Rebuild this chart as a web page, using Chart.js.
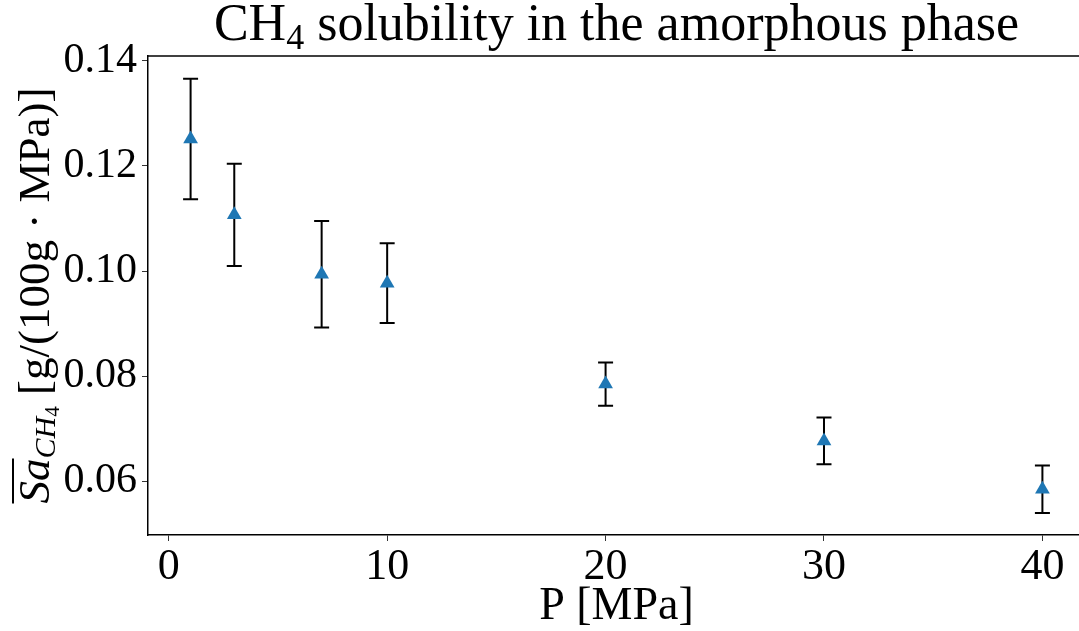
<!DOCTYPE html>
<html>
<head>
<meta charset="utf-8">
<script src="https://cdn.jsdelivr.net/npm/chart.js@4.4.1/dist/chart.umd.min.js"></script>
<style>
  html, body { margin: 0; padding: 0; background: #fff; overflow: hidden; }
  #wrap { width: 1079px; height: 631px; overflow: hidden; }
</style>
</head>
<body>
<!-- le canevas dépasse un peu à droite : la figure d'origine est coupée au bord droit -->
<div id="wrap"><canvas id="solChart" width="1085" height="631"></canvas></div>
<script>
// pression (MPa) et solubilité moyenne dans la phase amorphe
const pressure = [1, 3, 7, 10, 20, 30, 40];
const solubility = [0.1251, 0.1107, 0.0994, 0.0977, 0.0785, 0.0677, 0.0585];
const solubilityErr = [0.01145, 0.00972, 0.01012, 0.0076, 0.00412, 0.00446, 0.0045];

const xTicks = [0, 10, 20, 30, 40];
const yTicks = [0.06, 0.08, 0.10, 0.12, 0.14];
const yTickLabels = ['0.06', '0.08', '0.10', '0.12', '0.14'];

const SERIF = '"Liberation Serif", "DejaVu Serif", serif';

// barres d'erreur dessinées sous les marqueurs
const errorBars = {
    id: 'errorBars',
    beforeDatasetsDraw(chart) {
        const ctx = chart.ctx;
        const xs = chart.scales.x, ys = chart.scales.y;
        ctx.save();
        ctx.strokeStyle = '#000';
        ctx.lineWidth = 2;
        pressure.forEach(function(p, i) {
            const x = xs.getPixelForValue(p);
            const yTop = ys.getPixelForValue(solubility[i] + solubilityErr[i]);
            const yBot = ys.getPixelForValue(solubility[i] - solubilityErr[i]);
            ctx.beginPath();
            ctx.moveTo(x, yTop); ctx.lineTo(x, yBot);
            ctx.moveTo(x - 7.5, yTop); ctx.lineTo(x + 7.5, yTop);
            ctx.moveTo(x - 7.5, yBot); ctx.lineTo(x + 7.5, yBot);
            ctx.stroke();
        });
        ctx.restore();
    }
};

// titre, titre de l'axe y (avec indices) et bord supérieur
const decorations = {
    id: 'decorations',
    afterDraw(chart) {
        const ctx = chart.ctx;
        const area = chart.chartArea;
        ctx.save();

        // bord supérieur
        ctx.strokeStyle = '#000';
        ctx.lineWidth = 1.5;
        ctx.beginPath();
        ctx.moveTo(area.left, area.top);
        ctx.lineTo(area.right, area.top);
        ctx.stroke();

        ctx.fillStyle = '#000';
        ctx.textBaseline = 'alphabetic';

        // titre : CH4 solubility in the amorphous phase
        const big = '52px ' + SERIF, sub = '36px ' + SERIF;
        const parts = [
            { t: 'CH', f: big, dy: 0 },
            { t: '4', f: sub, dy: 9 },
            { t: ' solubility in the amorphous phase', f: big, dy: 0 }
        ];
        let total = 0;
        parts.forEach(function(p) { ctx.font = p.f; p.w = ctx.measureText(p.t).width; total += p.w; });
        let x = (area.left + area.right) / 2 - total / 2;
        parts.forEach(function(p) { ctx.font = p.f; ctx.fillText(p.t, x, 40 + p.dy); x += p.w; });

        // titre de l'axe y
        const yl = [
            { t: 'Sa', f: 'italic 45px ' + SERIF, dy: 0, bar: true },
            { t: 'CH', f: 'italic 30px ' + SERIF, dy: 6 },
            { t: '4', f: '21px ' + SERIF, dy: 10 },
            { t: ' [g/(100g \u00B7 MPa)]', f: '45px ' + SERIF, dy: 0 }
        ];
        total = 0;
        yl.forEach(function(p) { ctx.font = p.f; p.w = ctx.measureText(p.t).width; total += p.w; });
        ctx.translate(49, (area.top + area.bottom) / 2);
        ctx.rotate(-Math.PI / 2);
        x = -total / 2;
        yl.forEach(function(p) {
            ctx.font = p.f;
            ctx.fillText(p.t, x, p.dy);
            if (p.bar) {
                ctx.lineWidth = 2;
                ctx.beginPath();
                ctx.moveTo(x, -36); ctx.lineTo(x + p.w, -36);
                ctx.stroke();
            }
            x += p.w;
        });
        ctx.restore();
    }
};

new Chart(document.getElementById('solChart').getContext('2d'), {
    type: 'scatter',
    data: {
        datasets: [{
            label: 'CH4',
            data: pressure.map(function(p, i) { return { x: p, y: solubility[i] }; }),
            pointStyle: 'triangle',
            pointRadius: 8.5,
            pointHoverRadius: 8.5,
            backgroundColor: '#1f77b4',
            borderColor: '#1f77b4',
            borderWidth: 0
        }]
    },
    options: {
        responsive: false,
        animation: false,
        layout: { autoPadding: false, padding: { top: 56, right: 0, left: 0, bottom: 0 } },
        plugins: {
            legend: { display: false },
            tooltip: { enabled: false }
        },
        scales: {
            x: {
                type: 'linear',
                min: -0.95,
                max: 41.95,
                afterFit: function(scale) {
                    scale.height = 96;
                    scale.paddingLeft = 0;
                    scale.paddingRight = 0;
                },
                afterBuildTicks: function(scale) { scale.ticks = xTicks.map(function(v) { return { value: v }; }); },
                grid: { drawOnChartArea: false, tickLength: 6, tickWidth: 1, tickColor: '#333' },
                border: { color: '#000', width: 1.5 },
                ticks: {
                    color: '#000',
                    padding: 0,
                    maxRotation: 0,
                    font: { family: SERIF, size: 44 },
                    callback: function(v) { return String(v); }
                },
                title: {
                    display: true,
                    text: 'P [MPa]',
                    color: '#000',
                    font: { family: SERIF, size: 46, lineHeight: 1 },
                    padding: { top: 0, bottom: 1 }
                }
            },
            y: {
                type: 'linear',
                min: 0.0498,
                max: 0.1409,
                afterFit: function(scale) {
                    scale.width = 148;
                    scale.paddingTop = 0;
                    scale.paddingBottom = 0;
                },
                afterBuildTicks: function(scale) { scale.ticks = yTicks.map(function(v) { return { value: v }; }); },
                grid: { drawOnChartArea: false, tickLength: 6, tickWidth: 1, tickColor: '#333' },
                border: { color: '#000', width: 1.5 },
                ticks: {
                    color: '#000',
                    padding: 5,
                    font: { family: SERIF, size: 42 },
                    callback: function(v, i) { return yTickLabels[i]; }
                }
            }
        }
    },
    plugins: [errorBars, decorations]
});
</script>
</body>
</html>
